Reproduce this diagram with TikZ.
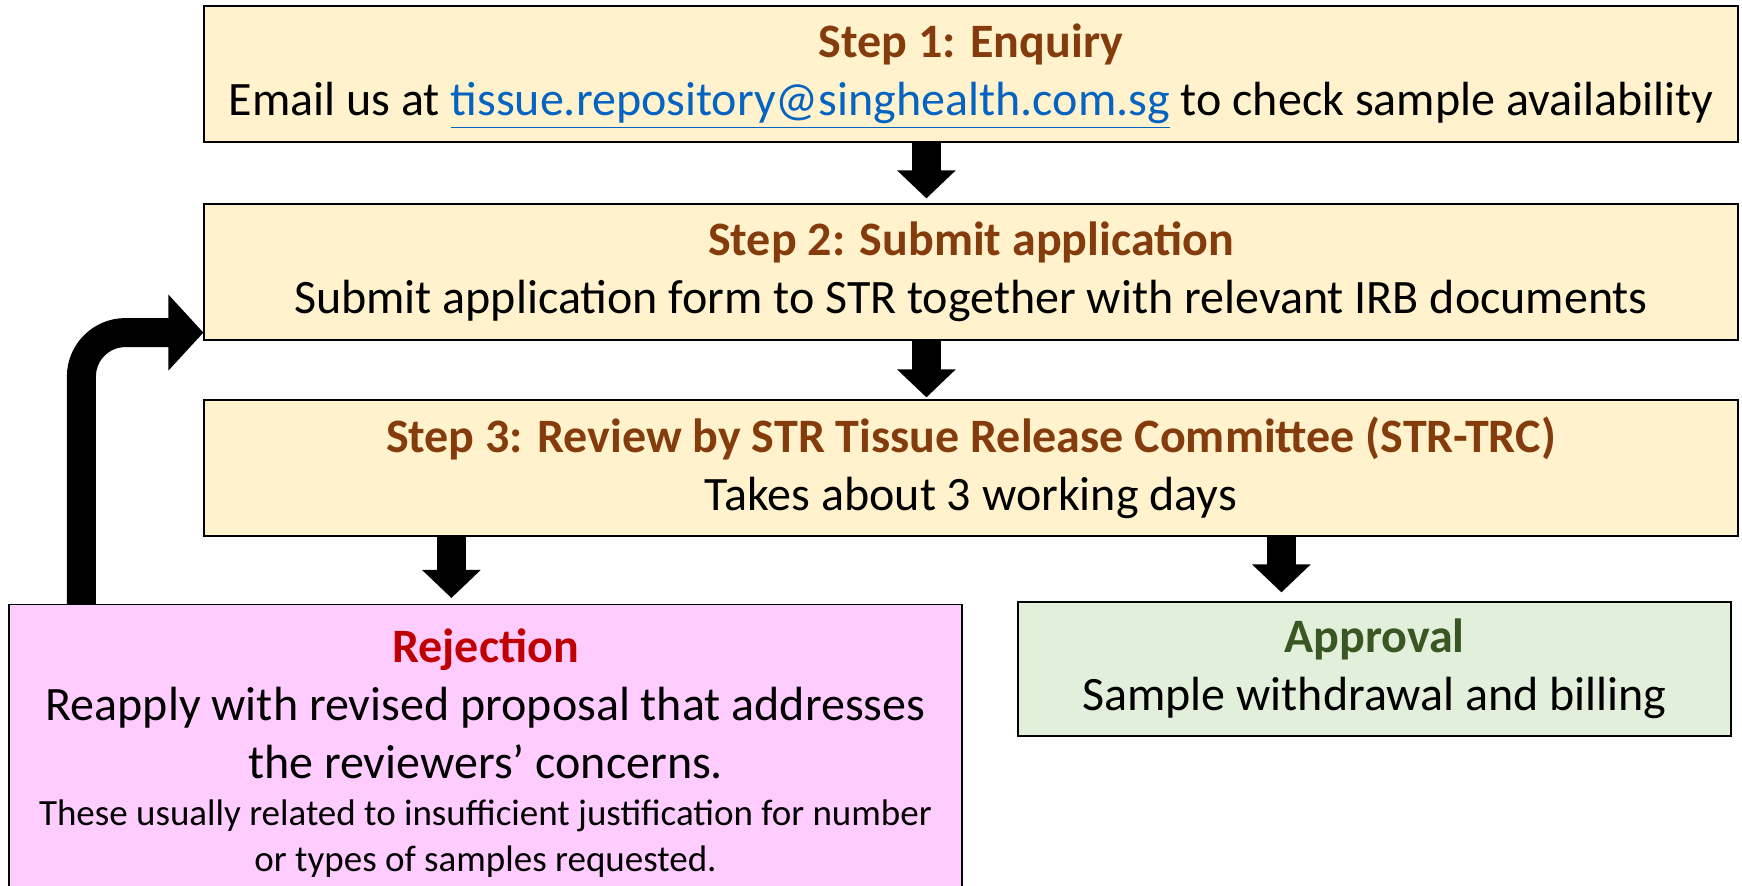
\documentclass[tikz,border=0pt]{standalone}
\usepackage{fontspec}
\setmainfont{Carlito}
\usetikzlibrary{arrows.meta,calc}

\definecolor{stepfill}{HTML}{FFF2CC}
\definecolor{rejfill}{HTML}{FFCCFF}
\definecolor{appfill}{HTML}{E2EFDA}
\definecolor{titlebrown}{HTML}{843C0C}
\definecolor{rejred}{HTML}{C00000}
\definecolor{appgreen}{HTML}{385723}
\definecolor{linkblue}{HTML}{0563C1}

\newcommand{\steptitle}[2]{\textcolor{#1}{\textbf{#2}}}

\begin{document}
\begin{tikzpicture}[x=0.5pt,y=-0.5pt,
    stepbox/.style={draw=black,line width=0.6pt,fill=stepfill,minimum width=767pt,minimum height=68pt,inner sep=0pt,align=center,font=\fontsize{24}{29}\selectfont},
    rejbox/.style={draw=black,line width=0.6pt,fill=rejfill,minimum width=476.5pt,inner xsep=0pt,inner ysep=12pt,align=center,anchor=north,font=\fontsize{24}{29}\selectfont},
    appbox/.style={draw=black,line width=0.6pt,fill=appfill,minimum width=356.5pt,minimum height=67pt,inner sep=0pt,align=center,font=\fontsize{24}{29}\selectfont},
    bigarrow/.style={line width=14.5pt,-{Triangle[width=28.5pt,length=14pt]}},
    looparrow/.style={line width=14.5pt,rounded corners=22pt,-{Triangle[width=37pt,length=17.5pt]}}]

    \useasboundingbox (0,0) rectangle (1742,886);

    % The three steps
    \node[stepbox] (enquiry) at (971,74) {\steptitle{titlebrown}{Step 1: Enquiry}\\
        Email us at \textcolor{linkblue}{\smash{\underline{tissue.repository@singhealth.com.sg}}} to check sample availability};
    \node[stepbox] (submit) at (971,272) {\steptitle{titlebrown}{Step 2: Submit application}\\
        Submit application form to STR together with relevant IRB documents};
    \node[stepbox] (review) at (971,468) {\steptitle{titlebrown}{Step 3: Review by STR Tissue Release Committee (STR-TRC)}\\
        Takes about 3 working days};

    % Outcomes
    \node[rejbox] (rejection) at (485.5,604) {\steptitle{rejred}{Rejection}\\
        Reapply with revised proposal that addresses\\
        the reviewers’ concerns.\\[-5.5pt]
        {\fontsize{18.5}{22}\selectfont These usually related to insufficient justification for number}\\[-6pt]
        {\fontsize{18.5}{22}\selectfont or types of samples requested.}};
    \node[appbox] (approval) at (1374.5,669) {\steptitle{appgreen}{Approval}\\
        Sample withdrawal and billing};

    % Block arrows between the boxes
    \coordinate (a1) at ($(enquiry.south west)+(723,0)$);
    \coordinate (a2) at ($(submit.south west)+(723,0)$);
    \coordinate (a3) at ($(review.south west)+(248,0)$);
    \coordinate (a4) at ($(review.south west)+(1078,0)$);
    \draw[bigarrow,shorten >=2.5pt] (a1) -- (a1 |- submit.north);
    \draw[bigarrow,shorten >=1pt] (a2) -- (a2 |- review.north);
    \draw[bigarrow,shorten >=3pt] (a3) -- (a3 |- rejection.north);
    \draw[bigarrow,shorten >=4.5pt] (a4) -- (a4 |- approval.north);

    % Loop back from rejection to step 2
    \coordinate (loopstart) at ($(rejection.north west)+(73,0)$);
    \coordinate (loopend) at ($(submit.south west)+(0,-8)$);
    \draw[looparrow] (loopstart) |- (loopend);

\end{tikzpicture}
\end{document}
